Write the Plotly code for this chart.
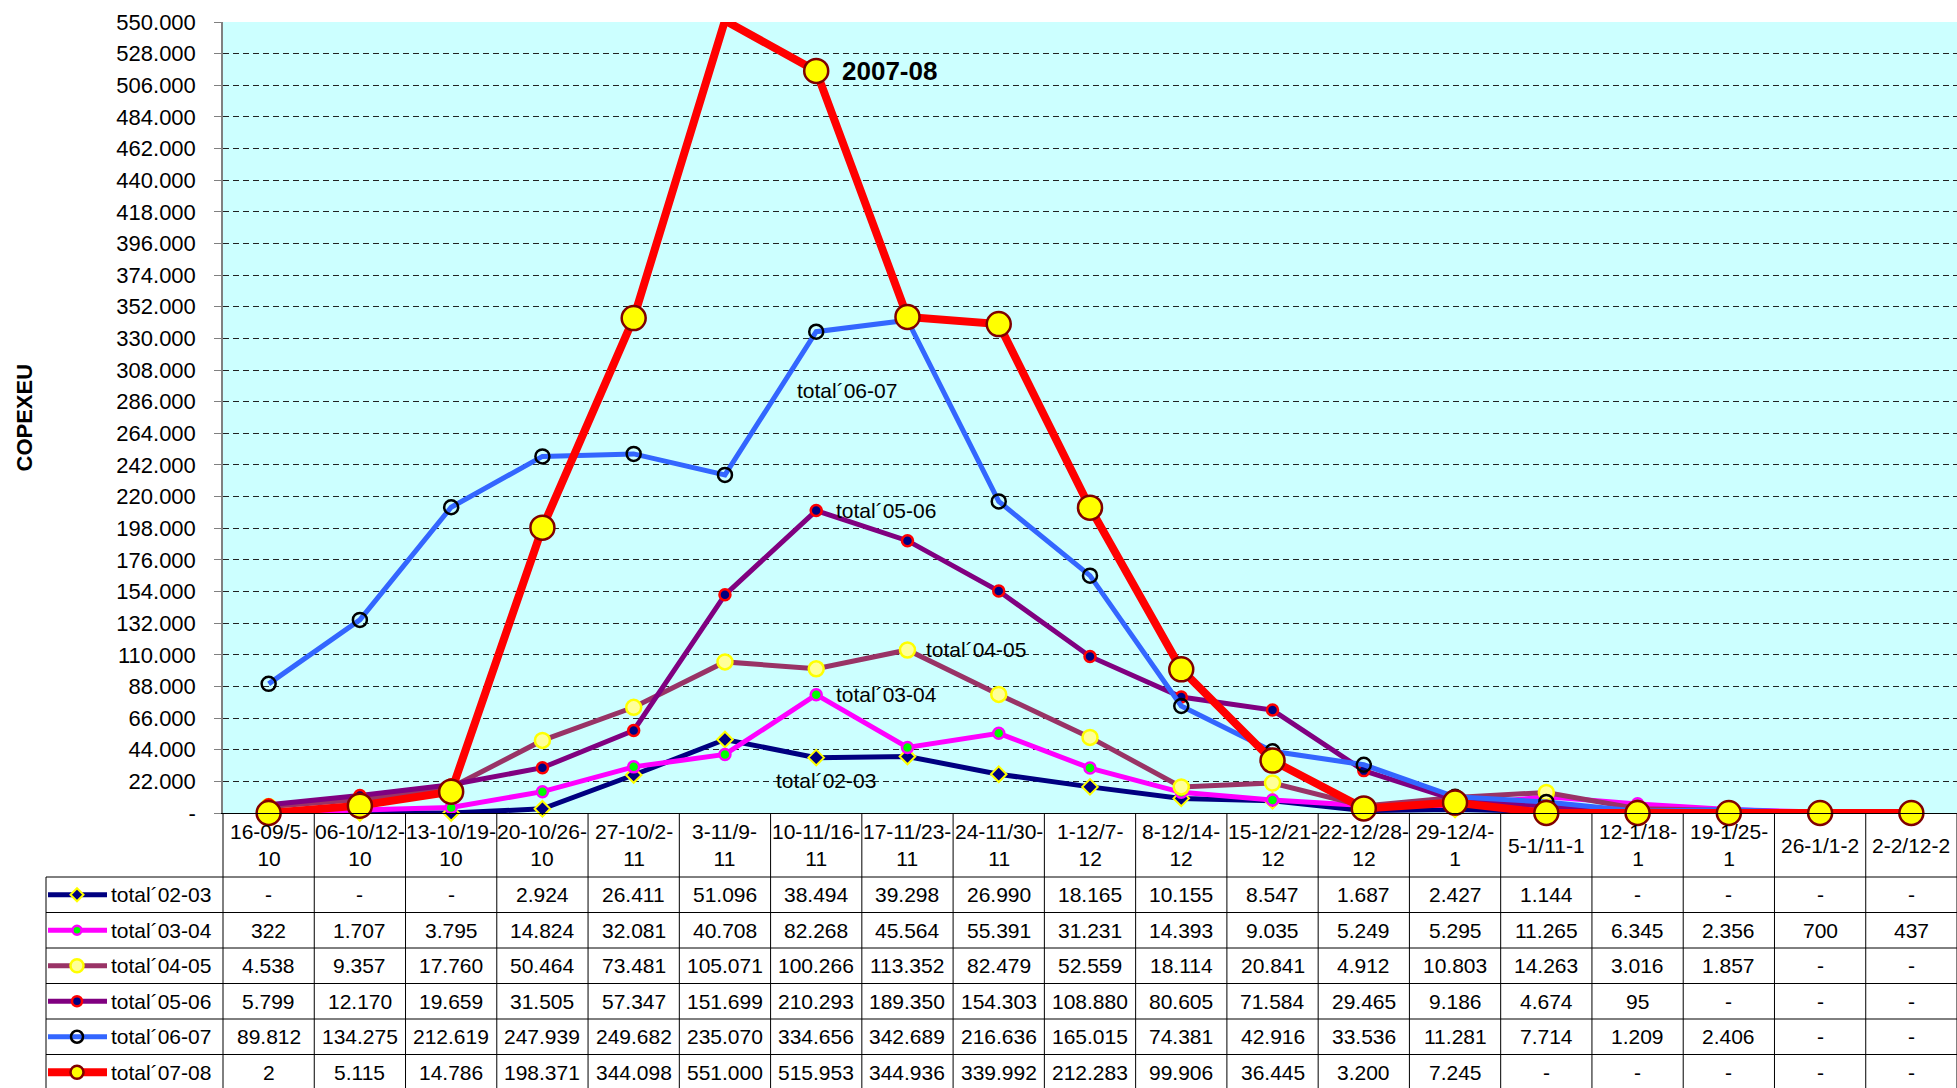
import plotly.graph_objects as go

# ---------------- data ----------------
categories = ["16-09/5-10", "06-10/12-10", "13-10/19-10", "20-10/26-10", "27-10/2-11",
              "3-11/9-11", "10-11/16-11", "17-11/23-11", "24-11/30-11", "1-12/7-12",
              "8-12/14-12", "15-12/21-12", "22-12/28-12", "29-12/4-1", "5-1/11-1",
              "12-1/18-1", "19-1/25-1", "26-1/1-2", "2-2/12-2"]
header_labels = ["16-09/5-<br>10", "06-10/12-<br>10", "13-10/19-<br>10", "20-10/26-<br>10",
                 "27-10/2-<br>11", "3-11/9-<br>11", "10-11/16-<br>11", "17-11/23-<br>11",
                 "24-11/30-<br>11", "1-12/7-<br>12", "8-12/14-<br>12", "15-12/21-<br>12",
                 "22-12/28-<br>12", "29-12/4-<br>1", "5-1/11-1", "12-1/18-<br>1",
                 "19-1/25-<br>1", "26-1/1-2", "2-2/12-2"]

series_names = ["total´02-03", "total´03-04", "total´04-05", "total´05-06", "total´06-07", "total´07-08"]
total_02_03 = [0, 0, 0, 2924, 26411, 51096, 38494, 39298, 26990, 18165, 10155, 8547, 1687, 2427, 1144, 0, 0, 0, 0]
total_03_04 = [322, 1707, 3795, 14824, 32081, 40708, 82268, 45564, 55391, 31231, 14393, 9035, 5249, 5295, 11265, 6345, 2356, 700, 437]
total_04_05 = [4538, 9357, 17760, 50464, 73481, 105071, 100266, 113352, 82479, 52559, 18114, 20841, 4912, 10803, 14263, 3016, 1857, 0, 0]
total_05_06 = [5799, 12170, 19659, 31505, 57347, 151699, 210293, 189350, 154303, 108880, 80605, 71584, 29465, 9186, 4674, 95, 0, 0, 0]
total_06_07 = [89812, 134275, 212619, 247939, 249682, 235070, 334656, 342689, 216636, 165015, 74381, 42916, 33536, 11281, 7714, 1209, 2406, 0, 0]
total_07_08 = [2, 5115, 14786, 198371, 344098, 551000, 515953, 344936, 339992, 212283, 99906, 36445, 3200, 7245, 0, 0, 0, 0, 0]
series_values = [total_02_03, total_03_04, total_04_05, total_05_06, total_06_07, total_07_08]

y_max = 550000
y_step = 22000

# ---------------- styles ----------------
FONT = "Arial, Liberation Sans, sans-serif"
styles = [
    dict(line=dict(color="#000080", width=5), marker=dict(symbol="diamond", size=12, color="#000080", line=dict(color="#FFFF00", width=2))),
    dict(line=dict(color="#FF00FF", width=5), marker=dict(symbol="circle", size=11, color="#00FF00", line=dict(color="#FF00FF", width=2.5))),
    dict(line=dict(color="#993366", width=5), marker=dict(symbol="circle", size=15, color="#FFFF99", line=dict(color="#FFFF00", width=2.5))),
    dict(line=dict(color="#800080", width=5), marker=dict(symbol="circle", size=11, color="#000080", line=dict(color="#FF0000", width=2.5))),
    dict(line=dict(color="#3366FF", width=5), marker=dict(symbol="circle", size=14, color="rgba(0,0,0,0)", line=dict(color="#000000", width=2.5))),
    dict(line=dict(color="#FF0000", width=8), marker=dict(symbol="circle", size=24, color="#FFFF00", line=dict(color="#800000", width=2.5))),
]
legend_marker_sizes = [10, 9, 13, 10, 12, 13]

# in-plot labels: (series index, point index, text, xshift, yshift, bold, size)
labels = [
    (5, 6, "2007-08", 24, 0, True, 26),
    (4, 6, "total´06-07", -21, -59, False, 21),
    (3, 6, "total´05-06", 18, 0, False, 21),
    (2, 7, "total´04-05", 17, 0, False, 21),
    (1, 6, "total´03-04", 18, 0, False, 21),
    (0, 6, "total´02-03", -42, -23, False, 21),
]

# ---------------- layout geometry ----------------
W, H = 1957, 1088
ML, MR, MT, MB = 223, 0, 22, 275
plot_w = W - ML - MR
plot_h = H - MT - MB
plot_bottom_px = H - MB
header_h_px = 64
row_h_px = 35.5
legend_left_px = 46

n = len(categories)
x_idx = list(range(n))
x_lo, x_hi = -0.5, n - 0.5


def py(px):
    return (plot_bottom_px - px) / plot_h


def pxx(px):
    return (px - ML) / plot_w


fig = go.Figure()

for name, vals, st in zip(series_names, series_values, styles):
    fig.add_trace(go.Scatter(x=x_idx, y=vals, mode="lines+markers", name=name,
                             line=st["line"], marker=st["marker"], cliponaxis=False,
                             showlegend=False))

shapes = []
annotations = []

# header row
header_bottom = plot_bottom_px + header_h_px
for i, lab in enumerate(header_labels):
    annotations.append(dict(x=i, y=py((plot_bottom_px + header_bottom) / 2), xref="x", yref="paper",
                            text=lab, showarrow=False, xanchor="center", yanchor="middle",
                            font=dict(family=FONT, size=21, color="black")))


def fmt(v):
    return "-" if v == 0 else f"{v:,}".replace(",", ".")


def marker_shape(mk, size, ax, ay):
    """Legend sample marker drawn as a pixel-sized shape anchored in paper coords."""
    common = dict(xref="paper", yref="paper", xsizemode="pixel", ysizemode="pixel",
                  xanchor=ax, yanchor=ay, layer="above", fillcolor=mk["color"],
                  line=dict(color=mk["line"]["color"], width=mk["line"]["width"]))
    if mk["symbol"] == "diamond":
        rd = size / 2 * 1.3
        return dict(type="path", path=f"M {rd},0 L 0,{rd} L {-rd},0 L 0,{-rd} Z", **common)
    r = size / 2
    return dict(type="circle", x0=-r, x1=r, y0=-r, y1=r, **common)


# table rows
row_centers = []
for r in range(len(series_names)):
    top = header_bottom + r * row_h_px
    center = top + row_h_px / 2
    row_centers.append(center)
    for i, v in enumerate(series_values[r]):
        annotations.append(dict(x=i, y=py(center), xref="x", yref="paper", text=fmt(v),
                                showarrow=False, xanchor="center", yanchor="middle",
                                font=dict(family=FONT, size=21, color="black")))
    annotations.append(dict(x=pxx(109), y=py(center), xref="paper", yref="paper",
                            text=series_names[r], showarrow=False, xanchor="left", yanchor="middle",
                            font=dict(family=FONT, size=21, color="black")))
    # legend sample line + marker
    shapes.append(dict(type="line", xref="paper", yref="paper", x0=pxx(48), x1=pxx(107),
                       y0=py(center), y1=py(center), layer="below",
                       line=dict(color=styles[r]["line"]["color"], width=styles[r]["line"]["width"])))
    shapes.append(marker_shape(styles[r]["marker"], legend_marker_sizes[r], pxx(77), py(center)))

table_bottom = header_bottom + len(series_names) * row_h_px + 2
# horizontal table lines
for r in range(len(series_names) + 1):
    yb = header_bottom + r * row_h_px
    shapes.append(dict(type="line", xref="paper", yref="paper", x0=pxx(legend_left_px), x1=1,
                       y0=py(yb), y1=py(yb), layer="below", line=dict(color="black", width=1)))
# vertical table lines
for k in range(n + 1):
    shapes.append(dict(type="line", xref="paper", yref="paper", x0=k / n, x1=k / n,
                       y0=0, y1=py(table_bottom), layer="below", line=dict(color="black", width=1)))
shapes.append(dict(type="line", xref="paper", yref="paper", x0=pxx(legend_left_px), x1=pxx(legend_left_px),
                   y0=py(header_bottom), y1=py(table_bottom), layer="below", line=dict(color="black", width=1)))

# in-plot series labels
for s, p, txt, xs, ys, bold, size in labels:
    annotations.append(dict(x=p, y=series_values[s][p], xref="x", yref="y",
                            text=f"<b>{txt}</b>" if bold else txt, showarrow=False,
                            xanchor="left", yanchor="middle", xshift=xs, yshift=ys,
                            font=dict(family=FONT, size=size, color="black")))

# y axis title
annotations.append(dict(x=pxx(24), y=0.5, xref="paper", yref="paper", text="<b>COPEXEU</b>",
                        textangle=-90, showarrow=False, xanchor="center", yanchor="middle",
                        font=dict(family=FONT, size=22, color="black")))

tickvals = list(range(0, y_max + 1, y_step))
ticktext = [fmt(v) for v in tickvals]

fig.update_layout(
    width=W, height=H,
    margin=dict(l=ML, r=MR, t=MT, b=MB, pad=0),
    paper_bgcolor="white",
    plot_bgcolor="#CCFFFF",
    showlegend=False,
    xaxis=dict(range=[x_lo, x_hi], showgrid=False, showticklabels=False, ticks="",
               showline=True, linecolor="black", linewidth=1, zeroline=False, fixedrange=True),
    yaxis=dict(range=[0, y_max], tickvals=tickvals, ticktext=ticktext, showgrid=True,
               gridcolor="#222222", gridwidth=1, griddash="6px,4px", zeroline=False,
               showline=True, linecolor="#808080", linewidth=1.5, ticks="outside", ticklen=7,
               tickcolor="#808080", tickwidth=1, ticklabelstandoff=14,
               tickfont=dict(family=FONT, size=22, color="black"), fixedrange=True),
    shapes=shapes,
    annotations=annotations,
)

fig.write_html("out.html", config={"displayModeBar": False},
               post_script="document.body.style.margin='0px';document.body.style.overflow='hidden';")
